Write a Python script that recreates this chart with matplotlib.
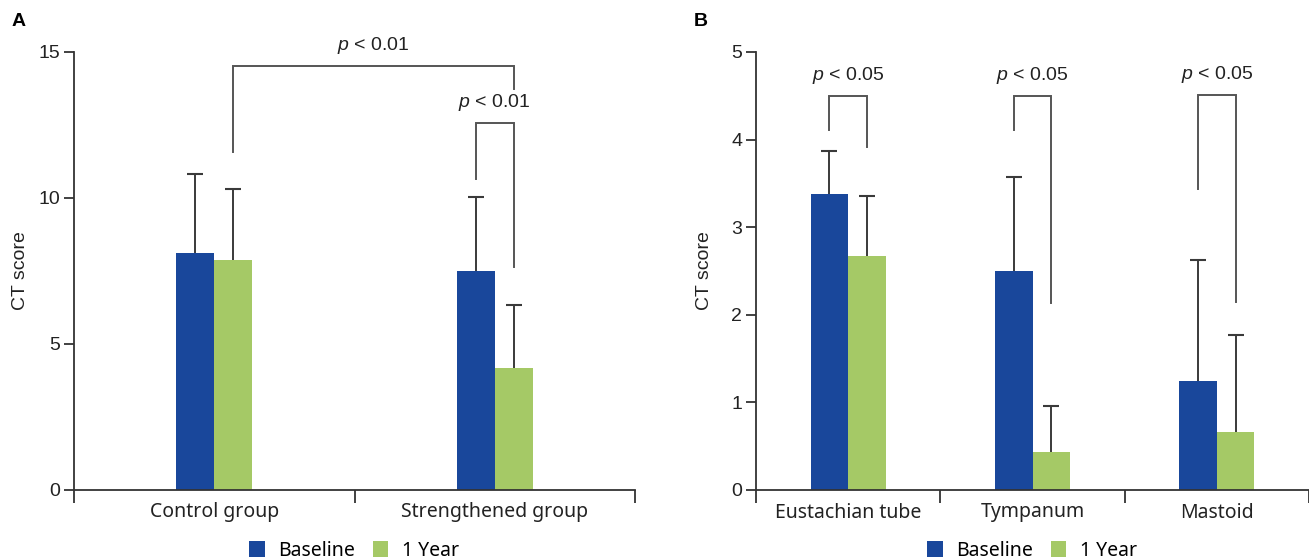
import matplotlib
matplotlib.use("Agg")
import matplotlib.pyplot as plt
import numpy as np

plt.rcParams['font.family'] = ['Liberation Sans', 'DejaVu Sans']
plt.rcParams['mathtext.fontset'] = 'custom'
plt.rcParams['mathtext.it'] = 'Liberation Sans:italic'
plt.rcParams['mathtext.rm'] = 'Liberation Sans'

# ---------------- data ----------------
series = ["Baseline", "1 Year"]

cats_a = ["Control group", "Strengthened group"]
base_a = [8.13, 7.50]
year_a = [7.86, 4.18]
base_a_err = [2.70, 2.54]
year_a_err = [2.45, 2.16]

cats_b = ["Eustachian tube", "Tympanum", "Mastoid"]
base_b = [3.38, 2.50, 1.24]
year_b = [2.67, 0.43, 0.66]
base_b_err = [0.49, 1.07, 1.38]
year_b_err = [0.69, 0.53, 1.11]

# brackets: (cat1, series1, y1 start, cat2, series2, y2 end, top y, label)
brackets_a = [
    (0, 1, 11.56, 1, 1, 13.72, 14.51, "p < 0.01"),
    (1, 0, 10.66, 1, 1, 7.63, 12.58, "p < 0.01"),
]
brackets_b = [
    (0, 0, 4.11, 0, 1, 3.92, 4.50, "p < 0.05"),
    (1, 0, 4.11, 1, 1, 2.13, 4.50, "p < 0.05"),
    (2, 0, 3.44, 2, 1, 2.15, 4.51, "p < 0.05"),
]

BLUE = "#19479b"
GREEN = "#a5c966"
ERR = "#3a3a3a"
BRK = "#555555"
AX = "#333333"

W, H = 1309, 559
fig = plt.figure(figsize=(W / 100, H / 100), dpi=100)

def px_axes(l, r, t, b):
    return fig.add_axes([l / W, 1 - b / H, (r - l) / W, (b - t) / H])

axA = px_axes(74, 635, 52, 490)
axB = px_axes(756, 1309, 52, 490)

def draw(ax, cats, base, year, be, ye, ymax, yticks, xmax, brackets, bar_px, cat_px,
         ylab_px, ax_left_px, ax_w_px):
    n = len(cats)
    x = np.arange(n)
    w = bar_px / cat_px
    ax.set_xlim(-0.5, xmax)
    ax.set_ylim(0, ymax)
    b1 = ax.bar(x - w / 2, base, w, color=BLUE, label=series[0], zorder=2)
    b2 = ax.bar(x + w / 2, year, w, color=GREEN, label=series[1], zorder=2)
    for xs, vals, errs in [(x - w / 2, base, be), (x + w / 2, year, ye)]:
        tops = np.asarray(vals) + np.asarray(errs)
        ax.vlines(xs, vals, tops, color=ERR, lw=1.4, zorder=3)
        ax.plot(xs, tops, ls='none', marker='_', ms=11, mew=1.5, color=ERR, zorder=3)
    offs = [-w / 2, w / 2]
    for c1, s1, y1, c2, s2, y2, top, lab in brackets:
        xa = c1 + offs[s1]
        xb = c2 + offs[s2]
        ax.plot([xa, xa, xb, xb], [y1, top, top, y2], color=BRK, lw=1.4,
                clip_on=False, zorder=4, solid_joinstyle='miter')
        ax.text((xa + xb) / 2, top + ymax * 0.047, r"$p$ < " + lab.split("< ")[1],
                ha='center', va='center', fontsize=14, color='#222222')
    for s in ['top', 'right']:
        ax.spines[s].set_visible(False)
    for s in ['left', 'bottom']:
        ax.spines[s].set_color(AX)
        ax.spines[s].set_linewidth(1.3)
    ax.set_yticks(yticks)
    ax.tick_params(axis='y', length=7, width=1.3, color=AX, labelsize=14,
                   labelcolor='#222222', pad=3)
    ax.set_xticks(x)
    ax.set_xticklabels(cats, fontsize=14, family=['Noto Sans', 'DejaVu Sans'],
                       color='#222222')
    ax.tick_params(axis='x', which='major', length=0, pad=9)
    ax.set_xticks(np.arange(-0.5, n + 0.5, 1.0), minor=True)
    ax.tick_params(axis='x', which='minor', length=9, width=1.3, color=AX,
                   direction='out')
    ax.set_ylabel("CT score", fontsize=14, color='#222222')
    ax.yaxis.set_label_coords((ylab_px - ax_left_px) / ax_w_px, 0.5)
    return b1, b2

hA = draw(axA, cats_a, base_a, year_a, base_a_err, year_a_err, 15, [0, 5, 10, 15],
          1.5, brackets_a, 38, 280.5, 29, 74, 561)
hB = draw(axB, cats_b, base_b, year_b, base_b_err, year_b_err, 5, [0, 1, 2, 3, 4, 5],
          -0.5 + 553 / 187, brackets_b, 38, 187, 713, 756, 553)

fig.text(12 / W, 1 - 22 / H, "A", fontsize=14, fontweight='bold', va='center', ha='left')
fig.text(694 / W, 1 - 22 / H, "B", fontsize=14, fontweight='bold', va='center', ha='left')

for hs, cx in [(hA, 354), (hB, 1032)]:
    fig.legend(hs, series, loc='center', bbox_to_anchor=(cx / W, 8 / H), ncol=2,
               frameon=False, handlelength=0.8, handleheight=0.9,
               handletextpad=0.7, columnspacing=0.9,
               prop={'family': ['Noto Sans', 'DejaVu Sans'], 'size': 14})

fig.savefig("out.png", dpi=100)
